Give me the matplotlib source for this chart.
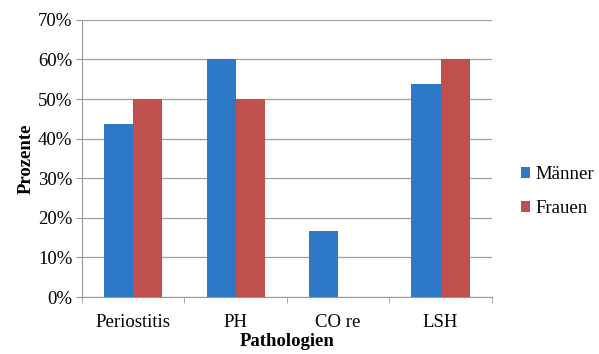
import numpy as np
import matplotlib.pyplot as plt
from matplotlib.ticker import PercentFormatter

plt.rcParams['font.family'] = ['Liberation Serif', 'DejaVu Serif']

kategorien = ['Periostitis', 'PH', 'CO re', 'LSH']
maenner = [43.75, 60.0, 16.7, 53.8]
frauen = [50.0, 50.0, 0.0, 60.0]

fig = plt.figure(figsize=(5.99, 3.54), dpi=100)
ax = fig.add_axes([0.137, 0.161, 0.684, 0.783])

x = np.arange(len(kategorien))
w = 0.285
ax.bar(x - w / 2, maenner, w, color='#2e78c8', label='Männer', zorder=3)
ax.bar(x + w / 2, frauen, w, color='#c0504d', label='Frauen', zorder=3)

ax.set_ylim(0, 70)
ax.set_xlim(-0.5, len(kategorien) - 0.5)
ax.set_yticks(np.arange(0, 71, 10))
ax.yaxis.set_major_formatter(PercentFormatter(decimals=0))
ax.set_xticks(x)
ax.set_xticklabels(kategorien)
ax.set_xticks(np.arange(-0.5, len(kategorien)), minor=True)
ax.tick_params(axis='x', which='major', length=0, pad=12, labelsize=13.5)
ax.tick_params(axis='x', which='minor', length=4, color='#999999')
ax.tick_params(axis='y', length=4, color='#999999', labelsize=13.5, pad=3)
ax.grid(axis='y', color='#a0a0a0', linewidth=0.9, zorder=0)

for s in ['top', 'right']:
    ax.spines[s].set_visible(False)
for s in ['left', 'bottom']:
    ax.spines[s].set_color('#999999')

ax.set_ylabel('Prozente', fontsize=13.5, fontweight='bold', labelpad=2)
ax.set_xlabel('Pathologien', fontsize=13.5, fontweight='bold', labelpad=2)

ax.legend(loc='center left', bbox_to_anchor=(1.03, 0.38), frameon=False,
          fontsize=13.5, handlelength=0.5, handleheight=0.5, handletextpad=0.3,
          labelspacing=0.9)

fig.savefig('out.png', dpi=100)
